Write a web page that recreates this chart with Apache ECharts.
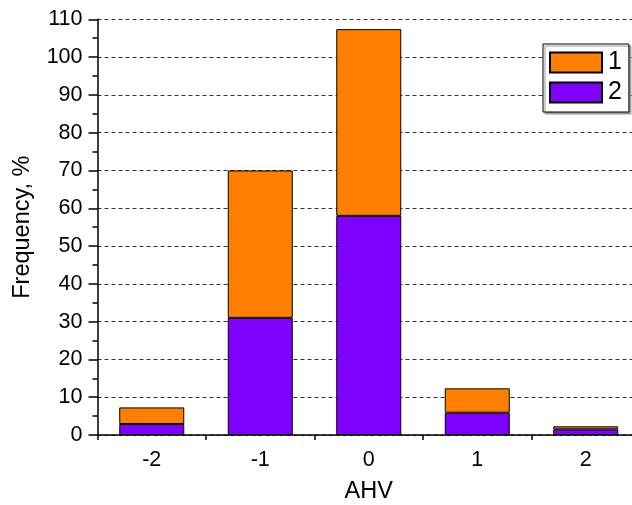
<!DOCTYPE html>
<html>
<head>
<meta charset="utf-8">
<script src="https://cdn.jsdelivr.net/npm/echarts@6/dist/echarts.min.js"></script>
<style>
  html, body { margin: 0; padding: 0; background: #fff; }
  #chart { width: 632px; height: 505px; }
</style>
</head>
<body>
<div id="chart"></div>
<script>
// AHV categories and stacked frequencies (%)
var categories = ['-2', '-1', '0', '1', '2'];
var series2 = [2.9, 31.0, 58.0, 5.9, 1.5];   // lower segment (purple)
var series1 = [4.4, 39.0, 49.4, 6.45, 0.8];  // upper segment (orange)
var yTicks = { min: 0, max: 110, step: 10 };

var FONT = 'Arial, "Liberation Sans", sans-serif';
var chart = echarts.init(document.getElementById('chart'), null, { renderer: 'canvas' });

chart.setOption({
  animation: false,
  backgroundColor: '#fff',
  textStyle: { fontFamily: FONT, color: '#000' },
  // the last category band runs past the right edge of the canvas
  grid: { left: 97.5, right: -8, top: 19.3, bottom: 70, outerBoundsMode: 'none', containLabel: false },
  legend: {
    left: 543, top: 44,
    orient: 'vertical',
    data: ['1', '2'],
    itemWidth: 52, itemHeight: 20, itemGap: 5,
    padding: [6, 7, 7, 6],
    borderColor: '#000', borderWidth: 1,
    backgroundColor: '#fff',
    shadowColor: '#9a9a9a', shadowOffsetX: 2, shadowOffsetY: 2, shadowBlur: 0,
    icon: 'rect',
    textStyle: { fontSize: 25, fontFamily: FONT, color: '#000', padding: [0, 0, 0, 1] }
  },
  xAxis: [{
    type: 'category',
    data: categories,
    name: 'AHV',
    nameLocation: 'middle',
    nameGap: 45,
    nameTextStyle: { fontSize: 23.5, fontFamily: FONT, color: '#000' },
    axisLine: { lineStyle: { color: '#000', width: 1.5 } },
    axisTick: { alignWithLabel: true, length: 8, lineStyle: { color: '#000', width: 1.5 } },
    axisLabel: { fontSize: 21.5, fontFamily: FONT, color: '#000', margin: 14 },
    splitLine: { show: false }
  }, {
    type: 'category',
    data: categories,
    position: 'bottom',
    axisLine: { show: false },
    axisTick: { show: true, length: 5, lineStyle: { color: '#000', width: 1.5 } },
    axisLabel: { show: false },
    splitLine: { show: false }
  }],
  yAxis: {
    type: 'value',
    min: yTicks.min, max: yTicks.max, interval: yTicks.step,
    name: 'Frequency, %',
    nameLocation: 'middle',
    nameGap: 63,
    nameTextStyle: { fontSize: 23.5, fontFamily: FONT, color: '#000' },
    axisLine: { show: true, lineStyle: { color: '#000', width: 1.5 } },
    axisTick: { show: true, length: 9, lineStyle: { color: '#000', width: 1.5 } },
    minorTick: { show: true, splitNumber: 2, length: 5, lineStyle: { color: '#000', width: 1.5 } },
    axisLabel: { fontSize: 21.5, fontFamily: FONT, color: '#000', margin: 15 },
    splitLine: { show: true, lineStyle: { color: '#333', type: [4, 3], width: 1 } }
  },
  series: [{
    name: '2',
    type: 'bar',
    stack: 'total',
    data: series2,
    barWidth: 65,
    itemStyle: { color: '#8000FF', borderColor: '#000', borderWidth: 1 }
  }, {
    name: '1',
    type: 'bar',
    stack: 'total',
    data: series1,
    barWidth: 65,
    itemStyle: { color: '#FF8000', borderColor: '#000', borderWidth: 1 }
  }]
});
</script>
</body>
</html>
